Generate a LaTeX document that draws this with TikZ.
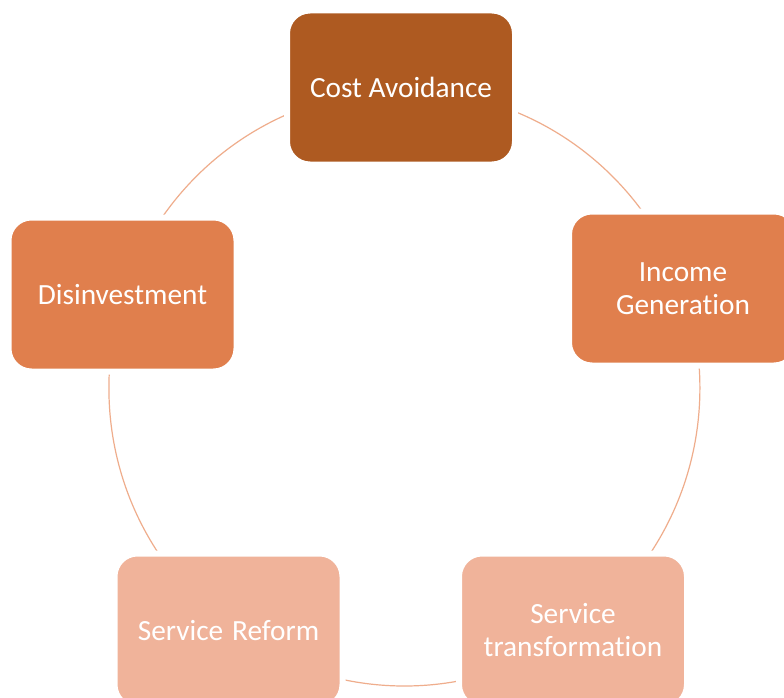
\documentclass[tikz,border=0pt]{standalone}
\usepackage{fontspec}
\setmainfont{Carlito}[RawFeature={-liga}]
\definecolor{darkor}{HTML}{AE5A21}
\definecolor{midor}{HTML}{E07F4D}
\definecolor{lightor}{HTML}{F0B39A}
\definecolor{ringcol}{HTML}{EFAD8C}
\tikzset{
  cyclebox/.style={rectangle, rounded corners=23pt, minimum width=228pt,
    minimum height=154pt, draw=white, line width=6pt, text=white,
    align=center, inner sep=0pt,
    font=\fontsize{29.3}{33}\selectfont},
  ring/.style={draw=ringcol, line width=1.2pt}
}
\begin{document}
\begin{tikzpicture}[x=1pt,y=-1pt]
\useasboundingbox (0,0) rectangle (784,698);
\fill[white] (0,0) rectangle (784,698);
\coordinate (ctr) at (404.4,388);
\draw[ring] (ctr) ellipse [x radius=295.5pt, y radius=298pt];
\node[cyclebox, fill=darkor] (cost) at (401,87.5) {Cost Avoidance};
\node[cyclebox, fill=midor] (income) at (683,288.5) {Income\\Generation};
\node[cyclebox, fill=lightor] (transf) at (573,630.5) {Service\\transformation};
\node[cyclebox, fill=lightor] (reform) at (228.5,630.5) {Service\hspace{8.8pt}Reform};
\node[cyclebox, fill=midor] (disinv) at (122.5,294.5) {Disinvestment};
\end{tikzpicture}
\end{document}
